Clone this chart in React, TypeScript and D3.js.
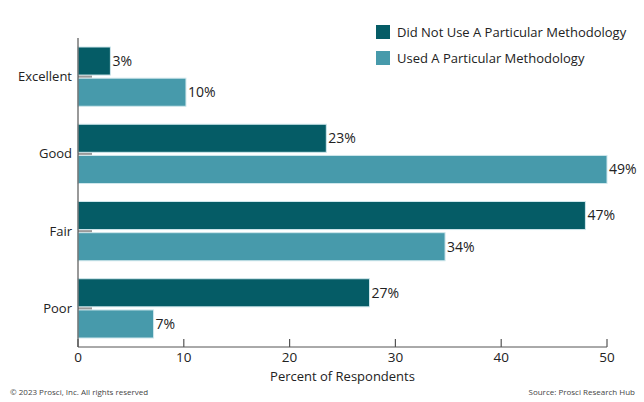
import React from 'react';
import * as d3 from 'd3';

const categories = ['Excellent', 'Good', 'Fair', 'Poor'];
const seriesNames = ['Did Not Use A Particular Methodology', 'Used A Particular Methodology'];
const didNotUse = [3, 23, 47, 27];
const usedMethod = [10, 49, 34, 7];
const xTicks = [0, 10, 20, 30, 40, 50];

const colors = ['#055c66', '#479aab'];
const font = '"Open Sans", sans-serif';

const W = 644;
const H = 402;
const margin = { top: 38, right: 37, bottom: 55, left: 78 };

const App: React.FC = () => {
  const values = [didNotUse, usedMethod];
  // axis runs 0..50, but the bars in the source are stretched to their max value
  const x = d3.scaleLinear().domain([0, 50]).range([margin.left, W - margin.right]);
  const maxVal = d3.max(values.flat()) ?? 50;
  const xBar = d3.scaleLinear().domain([0, maxVal]).range([margin.left, W - margin.right]);
  const y = d3
    .scaleBand<string>()
    .domain(categories)
    .range([margin.top, H - margin.bottom])
    .paddingInner(0.233)
    .paddingOuter(0.1165);
  const inner = d3.scaleBand<number>().domain([0, 1]).range([0, y.bandwidth()]).paddingInner(0.1);
  const baseY = H - margin.bottom;

  return (
    <svg width={W} height={H} style={{ position: 'absolute', left: 0, top: 0, fontFamily: font }}>
      <rect width={W} height={H} fill="#fff" />
      {/* bars */}
      {categories.map((c, ci) => (
        <g key={c}>
          {values.map((vals, si) => (
            <g key={si}>
              <rect
                x={xBar(0)}
                y={(y(c) ?? 0) + (inner(si) ?? 0)}
                width={xBar(vals[ci]) - xBar(0)}
                height={inner.bandwidth()}
                fill={colors[si]}
                stroke="#cfe7ec"
                strokeWidth={1}
              />
              <text
                x={xBar(vals[ci]) + 2}
                y={(y(c) ?? 0) + (inner(si) ?? 0) + inner.bandwidth() / 2}
                dy="0.35em"
                fontSize={14}
                fill="#222"
              >
                {vals[ci]}%
              </text>
            </g>
          ))}
          <line
            x1={x(0)}
            x2={x(0) + 14}
            y1={(y(c) ?? 0) + y.bandwidth() / 2}
            y2={(y(c) ?? 0) + y.bandwidth() / 2}
            stroke="#999"
            strokeWidth={2}
          />
          <text
            x={x(0) - 6}
            y={(y(c) ?? 0) + y.bandwidth() / 2}
            dy="0.35em"
            textAnchor="end"
            fontSize={13}
            fill="#222"
          >
            {c}
          </text>
        </g>
      ))}
      {/* axes */}
      <line x1={x(0)} x2={x(0)} y1={margin.top} y2={baseY} stroke="#555" strokeWidth={1.2} />
      <line x1={x(0)} x2={x(50)} y1={baseY} y2={baseY} stroke="#555" strokeWidth={1} />
      {xTicks.map((t) => (
        <g key={t}>
          <line x1={x(t)} x2={x(t)} y1={baseY - 8} y2={baseY} stroke="#555" strokeWidth={1.2} />
          <text x={x(t)} y={baseY + 10} dy="0.35em" textAnchor="middle" fontSize={13.5} fill="#222">
            {t}
          </text>
        </g>
      ))}
      <text x={(x(0) + x(50)) / 2} y={376} dy="0.35em" textAnchor="middle" fontSize={13} fill="#222">
        Percent of Respondents
      </text>
      {/* legend */}
      {seriesNames.map((s, i) => (
        <g key={s} transform={`translate(376, ${25 + i * 26})`}>
          <rect width={14} height={14} fill={colors[i]} />
          <text x={21} y={7} dy="0.35em" fontSize={13} fill="#222">
            {s}
          </text>
        </g>
      ))}
      {/* footer */}
      <text x={10} y={392} dy="0.35em" fontSize={8} fill="#444">
        © 2023 Prosci, Inc. All rights reserved
      </text>
      <text x={635} y={392} dy="0.35em" textAnchor="end" fontSize={8} fill="#444">
        Source: Prosci Research Hub
      </text>
    </svg>
  );
};

export default App;
